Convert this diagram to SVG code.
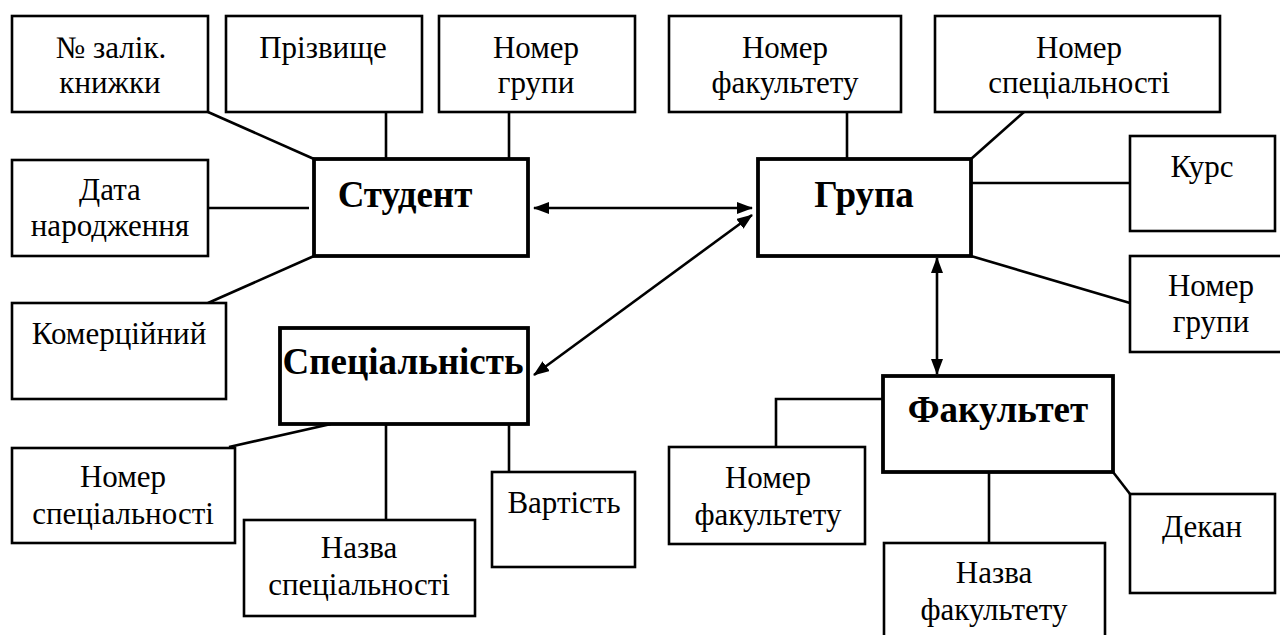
<svg xmlns="http://www.w3.org/2000/svg" width="1280" height="635" viewBox="0 0 1280 635">
<defs>
<marker id="ah" viewBox="0 0 16 12" refX="15" refY="6" markerWidth="16" markerHeight="12" markerUnits="userSpaceOnUse" orient="auto-start-reverse">
<path d="M0,0 L16,6 L0,12 Z" fill="#000"/>
</marker>
</defs>
<rect width="1280" height="635" fill="#fff"/>
<g id="connectors" stroke="#000" stroke-width="2.6" fill="none">
<line x1="208" y1="112" x2="314" y2="159"/>
<line x1="386" y1="112" x2="386" y2="159"/>
<line x1="509" y1="112" x2="509" y2="159"/>
<line x1="208" y1="208" x2="309" y2="208"/>
<line x1="314" y1="256" x2="208" y2="303"/>
<line x1="847" y1="112" x2="847" y2="159"/>
<line x1="1024" y1="112" x2="971" y2="159"/>
<line x1="971" y1="183" x2="1130" y2="183"/>
<line x1="971" y1="256" x2="1130" y2="303"/>
<line x1="331" y1="424" x2="229" y2="447"/>
<line x1="386" y1="424" x2="386" y2="520"/>
<line x1="509" y1="424" x2="509" y2="472"/>
<polyline points="883,399 776,399 776,447"/>
<line x1="989" y1="472" x2="989" y2="543"/>
<line x1="1113" y1="472" x2="1130" y2="494"/>
<line x1="534" y1="208" x2="752" y2="208" marker-start="url(#ah)" marker-end="url(#ah)"/>
<line x1="534" y1="375" x2="752" y2="215" marker-start="url(#ah)" marker-end="url(#ah)"/>
<line x1="937" y1="258" x2="937" y2="374" marker-start="url(#ah)" marker-end="url(#ah)"/>
</g>
<g id="entities" fill="#fff" stroke="#000" stroke-width="3.8">
<g id="student"><rect x="314" y="159" width="214" height="97"/><text font-family="Liberation Serif" font-size="37" font-weight="bold" text-anchor="middle" fill="#000" stroke="none" x="405" y="207">Студент</text></g>
<g id="group"><rect x="758" y="159" width="213" height="97"/><text font-family="Liberation Serif" font-size="37" font-weight="bold" text-anchor="middle" fill="#000" stroke="none" x="864" y="207">Група</text></g>
<g id="specialty"><rect x="280" y="328" width="248" height="96"/><text font-family="Liberation Serif" font-size="37" font-weight="bold" text-anchor="middle" fill="#000" stroke="none" x="403" y="374">Спеціальність</text></g>
<g id="faculty"><rect x="883" y="376" width="230" height="96"/><text font-family="Liberation Serif" font-size="37" font-weight="bold" text-anchor="middle" fill="#000" stroke="none" x="998" y="422">Факультет</text></g>
</g>
<g id="attributes" fill="#fff" stroke="#000" stroke-width="2.6">
<g id="a-zalik"><rect x="12" y="16" width="196" height="96"/><text font-family="Liberation Serif" font-size="31" text-anchor="middle" fill="#000" stroke="none" x="111" y="58">№ залік.</text><text font-family="Liberation Serif" font-size="31" text-anchor="middle" fill="#000" stroke="none" x="110" y="93">книжки</text></g>
<g id="a-surname"><rect x="226" y="16" width="196" height="96"/><text font-family="Liberation Serif" font-size="31" text-anchor="middle" fill="#000" stroke="none" x="323" y="58">Прізвище</text></g>
<g id="a-sgroup"><rect x="439" y="16" width="196" height="96"/><text font-family="Liberation Serif" font-size="31" text-anchor="middle" fill="#000" stroke="none" x="536" y="58">Номер</text><text font-family="Liberation Serif" font-size="31" text-anchor="middle" fill="#000" stroke="none" x="536" y="93">групи</text></g>
<g id="a-birth"><rect x="12" y="160" width="196" height="96"/><text font-family="Liberation Serif" font-size="31" text-anchor="middle" fill="#000" stroke="none" x="110" y="200">Дата</text><text font-family="Liberation Serif" font-size="31" text-anchor="middle" fill="#000" stroke="none" x="110" y="236">народження</text></g>
<g id="a-comm"><rect x="12" y="303" width="214" height="96"/><text font-family="Liberation Serif" font-size="31" text-anchor="middle" fill="#000" stroke="none" x="119" y="344">Комерційний</text></g>
<g id="a-gfac"><rect x="669" y="16" width="232" height="96"/><text font-family="Liberation Serif" font-size="31" text-anchor="middle" fill="#000" stroke="none" x="785" y="58">Номер</text><text font-family="Liberation Serif" font-size="31" text-anchor="middle" fill="#000" stroke="none" x="785" y="93">факультету</text></g>
<g id="a-gspec"><rect x="935" y="16" width="285" height="96"/><text font-family="Liberation Serif" font-size="31" text-anchor="middle" fill="#000" stroke="none" x="1079" y="58">Номер</text><text font-family="Liberation Serif" font-size="31" text-anchor="middle" fill="#000" stroke="none" x="1079" y="93">спеціальності</text></g>
<g id="a-course"><rect x="1130" y="136" width="145" height="95"/><text font-family="Liberation Serif" font-size="31" text-anchor="middle" fill="#000" stroke="none" x="1202" y="177">Курс</text></g>
<g id="a-gnum"><rect x="1130" y="256" width="152" height="96"/><text font-family="Liberation Serif" font-size="31" text-anchor="middle" fill="#000" stroke="none" x="1211" y="296">Номер</text><text font-family="Liberation Serif" font-size="31" text-anchor="middle" fill="#000" stroke="none" x="1211" y="332">групи</text></g>
<g id="a-snum"><rect x="12" y="448" width="223" height="95"/><text font-family="Liberation Serif" font-size="31" text-anchor="middle" fill="#000" stroke="none" x="123" y="487">Номер</text><text font-family="Liberation Serif" font-size="31" text-anchor="middle" fill="#000" stroke="none" x="123" y="524">спеціальності</text></g>
<g id="a-sname"><rect x="244" y="520" width="231" height="96"/><text font-family="Liberation Serif" font-size="31" text-anchor="middle" fill="#000" stroke="none" x="359" y="558">Назва</text><text font-family="Liberation Serif" font-size="31" text-anchor="middle" fill="#000" stroke="none" x="359" y="595">спеціальності</text></g>
<g id="a-cost"><rect x="492" y="472" width="143" height="95"/><text font-family="Liberation Serif" font-size="31" text-anchor="middle" fill="#000" stroke="none" x="564" y="513">Вартість</text></g>
<g id="a-fnum"><rect x="669" y="447" width="196" height="97"/><text font-family="Liberation Serif" font-size="31" text-anchor="middle" fill="#000" stroke="none" x="768" y="488">Номер</text><text font-family="Liberation Serif" font-size="31" text-anchor="middle" fill="#000" stroke="none" x="768" y="525">факультету</text></g>
<g id="a-fname"><rect x="884" y="543" width="221" height="100"/><text font-family="Liberation Serif" font-size="31" text-anchor="middle" fill="#000" stroke="none" x="994" y="583">Назва</text><text font-family="Liberation Serif" font-size="31" text-anchor="middle" fill="#000" stroke="none" x="994" y="620">факультету</text></g>
<g id="a-dean"><rect x="1130" y="494" width="145" height="99"/><text font-family="Liberation Serif" font-size="31" text-anchor="middle" fill="#000" stroke="none" x="1202" y="537">Декан</text></g>
</g>
</svg>
